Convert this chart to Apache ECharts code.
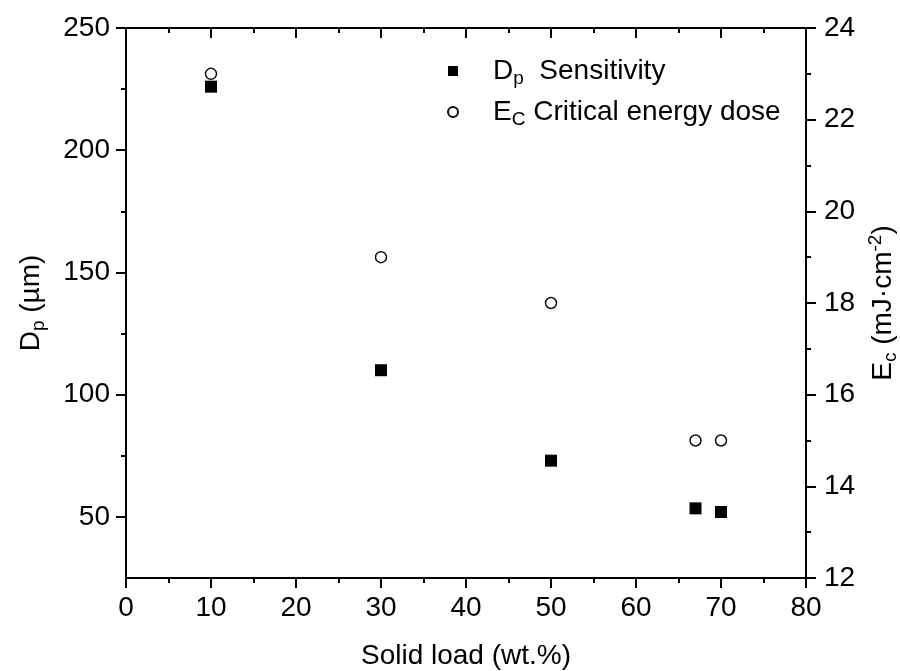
<!DOCTYPE html>
<html>
<head>
<meta charset="utf-8">
<script src="https://cdn.jsdelivr.net/npm/echarts@6/dist/echarts.min.js"></script>
<style>html,body{margin:0;padding:0;background:#fff}#c{width:900px;height:671px}</style>
</head>
<body>
<div id="c"></div>
<script>
// Data
const solidLoad = [10, 30, 50, 67, 70];           // wt.%
const dpValues  = [226, 110, 73, 53.5, 52];        // Dp (µm), left axis
const ecValues  = [23, 19, 18, 15, 15];            // Ec (mJ·cm-2), right axis
const xTicks = {min: 0, max: 80, interval: 10};
const dpTicks = {min: 25, max: 250, labelMin: 50, interval: 50};
const ecTicks = {min: 12, max: 24, interval: 2};

const FONT = "'Liberation Sans', Arial, sans-serif";
const FS = 28;
const chart = echarts.init(document.getElementById('c'), null, {renderer: 'canvas'});

const gridTop = 28, gridH = 550, gridLeft = 126, gridRight = 94;
const pxPerDp = gridH / (dpTicks.max - dpTicks.min);

const lineStyle = {color: '#000', width: 2};
const richBase = {
  a: {fontSize: FS, fontFamily: FONT, color: '#000', lineHeight: 34},
  s: {fontSize: 19, fontFamily: FONT, color: '#000', lineHeight: 20, verticalAlign: 'bottom'},
  p: {fontSize: 19, fontFamily: FONT, color: '#000', lineHeight: 20, verticalAlign: 'top'},
  g: {width: 30, fontSize: FS, fontFamily: FONT, lineHeight: 34}
};

const option = {
  animation: false,
  backgroundColor: '#fff',
  textStyle: {fontFamily: FONT},
  grid: [
    {left: gridLeft, right: gridRight, top: gridTop, height: gridH, containLabel: false, outerBoundsMode: 'none'},
    {left: gridLeft, right: gridRight, top: gridTop, height: (dpTicks.max - dpTicks.labelMin) * pxPerDp, containLabel: false, outerBoundsMode: 'none'}
  ],
  legend: {
    orient: 'vertical',
    left: 442, top: 52,
    itemWidth: 10, itemHeight: 10, itemGap: 10,
    data: [
      {name: 'Dp', icon: 'rect'},
      {name: 'Ec', icon: 'circle'}
    ],
    formatter: function (name) {
      return name === 'Dp'
        ? '{g| }{a|D}{s|p}{a|  Sensitivity}'
        : '{g| }{a|E}{s|C}{a| Critical energy dose}';
    },
    textStyle: {rich: richBase}
  },
  xAxis: [
    {
      gridIndex: 0, type: 'value', position: 'bottom',
      min: xTicks.min, max: xTicks.max, interval: xTicks.interval,
      name: 'Solid load (wt.%)', nameLocation: 'middle', nameGap: 64,
      nameTextStyle: {fontSize: FS, fontFamily: FONT, color: '#000'},
      axisLine: {show: true, onZero: false, lineStyle: lineStyle},
      axisTick: {show: true, inside: false, length: 10, lineStyle: {color: '#000', width: 2}},
      minorTick: {show: true, splitNumber: 2, length: 5, lineStyle: {color: '#000', width: 2}},
      axisLabel: {fontSize: FS, fontFamily: FONT, color: '#000', margin: 16},
      splitLine: {show: false}
    },
    {
      gridIndex: 0, type: 'value', position: 'top',
      min: xTicks.min, max: xTicks.max, interval: xTicks.interval,
      axisLine: {show: true, onZero: false, lineStyle: lineStyle},
      axisTick: {show: true, inside: true, length: 10, lineStyle: {color: '#000', width: 2}},
      minorTick: {show: true, splitNumber: 2, length: 5, lineStyle: {color: '#000', width: 2}},
      axisLabel: {show: false},
      splitLine: {show: false}
    },
    {
      gridIndex: 1, type: 'value', show: false,
      min: xTicks.min, max: xTicks.max
    }
  ],
  yAxis: [
    {
      gridIndex: 0, type: 'value', position: 'left',
      min: dpTicks.min, max: dpTicks.max,
      name: '{a|D}{s|p}{a| (µm)}', nameLocation: 'middle', nameGap: 78,
      nameTextStyle: {rich: richBase},
      axisLine: {show: true, onZero: false, lineStyle: lineStyle},
      axisTick: {show: false},
      axisLabel: {show: false},
      splitLine: {show: false}
    },
    {
      gridIndex: 0, type: 'value', position: 'right',
      min: ecTicks.min, max: ecTicks.max, interval: ecTicks.interval,
      name: '{a|E}{s|c}{a| (mJ·cm}{p|-2}{a|)}', nameLocation: 'middle', nameGap: 60,
      nameTextStyle: {rich: richBase},
      axisLine: {show: true, onZero: false, lineStyle: lineStyle},
      axisTick: {show: true, inside: false, length: 10, lineStyle: {color: '#000', width: 2}},
      minorTick: {show: true, splitNumber: 2, length: 5, lineStyle: {color: '#000', width: 2}},
      axisLabel: {fontSize: FS, fontFamily: FONT, color: '#000', margin: 18},
      splitLine: {show: false}
    },
    {
      gridIndex: 1, type: 'value', position: 'left',
      min: dpTicks.labelMin, max: dpTicks.max, interval: dpTicks.interval,
      axisLine: {show: false},
      axisTick: {show: true, inside: false, length: 10, lineStyle: {color: '#000', width: 2}},
      minorTick: {show: true, splitNumber: 2, length: 5, lineStyle: {color: '#000', width: 2}},
      axisLabel: {fontSize: FS, fontFamily: FONT, color: '#000', margin: 16},
      splitLine: {show: false}
    }
  ],
  series: [
    {
      name: 'Dp', type: 'scatter', xAxisIndex: 0, yAxisIndex: 0,
      symbol: 'rect', symbolSize: 12,
      itemStyle: {color: '#000', opacity: 1},
      data: solidLoad.map((x, i) => [x, dpValues[i]])
    },
    {
      name: 'Ec', type: 'scatter', xAxisIndex: 0, yAxisIndex: 1,
      symbol: 'circle', symbolSize: 11,
      itemStyle: {color: '#fff', borderColor: '#111', borderWidth: 1.5, opacity: 1},
      data: solidLoad.map((x, i) => [x, ecValues[i]])
    }
  ]
};
chart.setOption(option);
</script>
</body>
</html>
